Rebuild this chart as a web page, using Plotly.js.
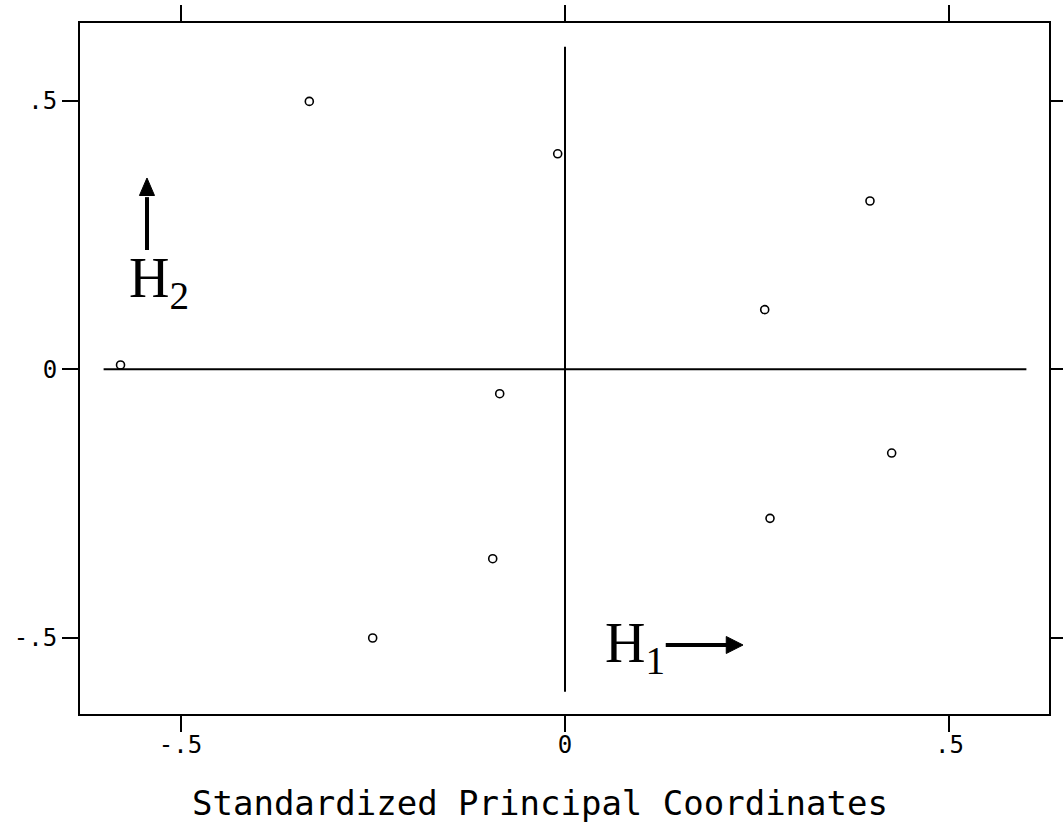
<!DOCTYPE html>
<html>
<head>
<meta charset="utf-8">
<script src="https://cdn.plot.ly/plotly-3.0.1.min.js"></script>
<style>html,body{margin:0;padding:0;background:#fff;}#chart{width:1063px;height:831px;}</style>
</head>
<body>
<div id="chart"></div>
<script>
// Standardized principal coordinates
const coordH1 = [-0.3325, -0.0095, 0.3966, 0.2597, -0.578, -0.0849, 0.4248, 0.2666, -0.094, -0.2501];
const coordH2 = [0.4985, 0.401, 0.3132, 0.111, 0.008, -0.0454, -0.1558, -0.2773, -0.3524, -0.5];
const tickValues = [-0.5, 0, 0.5];
const tickLabels = ['-.5', '0', '.5'];
const xTitle = 'Standardized Principal Coordinates';
const h1Label = 'H<sub>1</sub>';
const h2Label = 'H<sub>2</sub>';
const axisExtent = 0.6;

const monoFont = {family: 'DejaVu Sans Mono, Liberation Mono, monospace', color: '#000'};
const serifFont = {family: 'Liberation Serif, DejaVu Serif, serif', color: '#000'};

const traces = [
  {x: [-axisExtent, axisExtent], y: [0, 0], mode: 'lines', line: {color: '#000', width: 2}, hoverinfo: 'skip'},
  {x: [0, 0], y: [-axisExtent, axisExtent], mode: 'lines', line: {color: '#000', width: 2}, hoverinfo: 'skip'},
  {x: coordH1, y: coordH2, mode: 'markers', marker: {symbol: 'circle-open', size: 8, color: '#000', line: {width: 1.6, color: '#000'}}}
];

const axisCommon = {
  showgrid: false, zeroline: false, showline: true, linecolor: '#000', linewidth: 2,
  mirror: 'ticks', ticks: 'outside', ticklen: 16, tickwidth: 2, tickcolor: '#000',
  tickvals: tickValues, ticktext: tickLabels, tickfont: Object.assign({size: 24}, monoFont)
};

// arrow decorations (H1 pointing right, H2 pointing up)
const h1Arrow = {y: -0.513, x0: 0.131, xBase: 0.2097, xTip: 0.2315, half: 0.0158};
const h2Arrow = {x: -0.5436, y0: 0.222, yBase: 0.3234, yTip: 0.3560, half: 0.0098};

const shapes = [
  {type: 'line', xref: 'x', yref: 'y', x0: h1Arrow.x0, x1: h1Arrow.xBase + 0.002, y0: h1Arrow.y, y1: h1Arrow.y, line: {color: '#000', width: 4}},
  {type: 'path', xref: 'x', yref: 'y', fillcolor: '#000', line: {color: '#000', width: 1},
   path: `M ${h1Arrow.xTip},${h1Arrow.y} L ${h1Arrow.xBase},${h1Arrow.y + h1Arrow.half} L ${h1Arrow.xBase},${h1Arrow.y - h1Arrow.half} Z`},
  {type: 'line', xref: 'x', yref: 'y', x0: h2Arrow.x, x1: h2Arrow.x, y0: h2Arrow.y0, y1: h2Arrow.yBase - 0.003, line: {color: '#000', width: 4}},
  {type: 'path', xref: 'x', yref: 'y', fillcolor: '#000', line: {color: '#000', width: 1},
   path: `M ${h2Arrow.x},${h2Arrow.yTip} L ${h2Arrow.x - h2Arrow.half},${h2Arrow.yBase} L ${h2Arrow.x + h2Arrow.half},${h2Arrow.yBase} Z`}
];

const layout = {
  width: 1063, height: 831,
  margin: {l: 80, r: 14, t: 23, b: 117},
  paper_bgcolor: '#fff', plot_bgcolor: '#fff',
  showlegend: false,
  xaxis: Object.assign({}, axisCommon, {range: [-0.6307, 0.6294], ticklabelstandoff: -8}),
  yaxis: Object.assign({}, axisCommon, {range: [-0.6414, 0.6444]}),
  shapes: shapes,
  annotations: [
    {x: 0.4747, y: -0.1288, xref: 'paper', yref: 'paper', text: xTitle, showarrow: false,
     font: Object.assign({size: 34}, monoFont), xanchor: 'center', yanchor: 'middle'},
    {x: 0.078, y: -0.517, xref: 'x', yref: 'y', text: h1Label, showarrow: false,
     font: Object.assign({size: 56}, serifFont), xanchor: 'left', yanchor: 'middle', xshift: -22},
    {x: -0.541, y: 0.162, xref: 'x', yref: 'y', text: h2Label, showarrow: false,
     font: Object.assign({size: 56}, serifFont), xanchor: 'left', yanchor: 'middle', xshift: -22}
  ]
};

Plotly.newPlot('chart', traces, layout, {displayModeBar: false, staticPlot: true});
</script>
</body>
</html>
